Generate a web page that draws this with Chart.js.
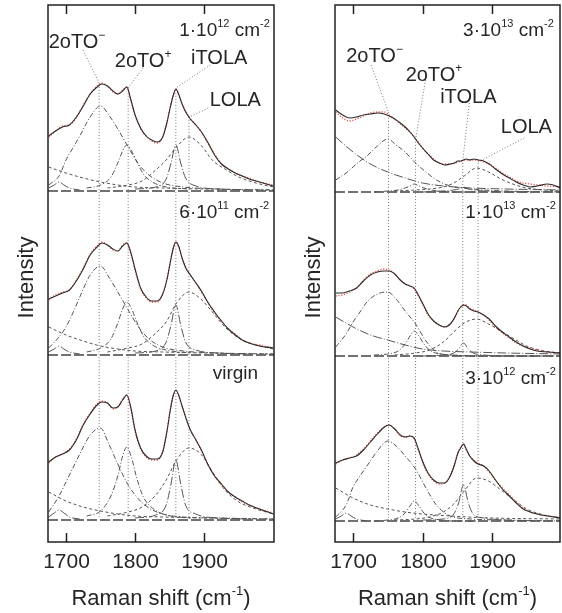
<!DOCTYPE html>
<html>
<head>
<meta charset="utf-8">
<script src="https://cdn.jsdelivr.net/npm/chart.js@4.4.0/dist/chart.umd.min.js"></script>
<style>
  html, body { margin: 0; padding: 0; background: #fff; }
  #wrap { position: relative; width: 562px; height: 613px; }
  canvas { position: absolute; top: 0; }
</style>
</head>
<body>
<div id="wrap">
  <canvas id="left" width="281" height="613" style="left:0"></canvas>
  <canvas id="right" width="281" height="613" style="left:281px"></canvas>
</div>
<script>
// Raman shift grid (cm-1) shared by the measured spectra and their fits
var ramanGrid = [1675,1685,1695,1705,1715,1725,1735,1745,1752,1760,1768,1775,1782,1788,1794,1800,1808,1816,1824,1832,1840,1846,1851,1855,1859,1863,1868,1874,1880,1888,1896,1905,1915,1925,1935,1945,1955,1965,1980,2000];

// left panel: 1e12, 6e11, virgin
var fit1e12 = [55,60,64,66,74,85,97,104,107,105,100,97,100,104,91,76,63,55,51,49,54,68,84,95,102,97,87,78,72,66,59,49,36,27,22,18,15,12,9,5];
var obs1e12 = [54,60,65,66,73,86,97,105,108,105,99,97,101,104,90,76,62,55,50,48,54,69,85,95,102,96,87,79,72,66,59,48,37,27,22,18,15,13,9,6];
var fit6e11 = [56,59,62,65,74,86,100,108,112,110,106,104,109,112,102,86,67,58,54,54,61,75,93,106,113,109,97,86,80,72,64,53,43,34,26,20,15,12,9,7];
var obs6e11 = [55,60,63,65,75,87,101,109,113,110,105,104,110,112,101,85,66,57,53,53,61,76,93,107,113,108,97,87,80,72,63,53,42,34,26,21,15,12,10,7];
var fitVirgin = [58,63,66,70,80,95,106,115,118,117,112,113,120,125,112,90,72,64,61,61,68,88,110,124,130,125,114,101,90,80,70,56,44,36,28,23,19,15,11,6];
var obsVirgin = [57,63,66,71,81,96,107,116,119,117,111,113,121,125,111,89,71,63,60,60,69,89,111,124,129,124,114,101,90,80,69,56,44,35,28,23,18,15,11,7];

// right panel: 3e13, 1e13, 3e12
var fit3e13 = [82,77,74,75,77,78,79,78,76,73,69,65,60,55,49,44,38,32,29,27,28,29,31,31,32,33,32,33,32,31,28,23,18,14,10,7,5,6,8,4];
var obs3e13 = [80,74,71,73,76,79,80,80,77,73,68,64,60,55,50,44,38,33,29,28,28,29,30,31,32,32,32,32,32,30,28,24,19,15,11,9,8,7,6,5];
var fit1e13 = [63,63,65,68,75,81,84,85,85,82,76,72,70,68,61,53,42,35,31,29,32,38,45,49,51,50,47,45,44,41,37,30,24,19,14,10,7,5,4,3];
var obs1e13 = [60,61,64,68,76,82,85,87,86,82,76,72,70,67,60,52,41,35,31,29,32,38,45,49,51,51,48,46,44,41,36,29,23,18,13,10,8,6,4,3];
var fit3e12 = [58,61,63,65,71,79,87,94,96,92,86,84,85,83,72,60,48,41,38,38,45,56,68,73,77,72,65,60,57,55,50,41,32,25,18,12,9,7,5,3];
var obs3e12 = [57,61,63,66,72,80,88,94,96,92,85,84,85,82,71,59,47,40,37,38,46,57,68,74,77,71,65,61,58,55,49,41,33,26,19,13,9,7,5,3];

// fitted components, each on its own grid
var gridMinus = [1675,1690,1700,1710,1720,1735,1750,1762,1775,1790,1805,1820,1840,1870,1920,2000];
var gridPlus  = [1730,1750,1765,1775,1782,1788,1795,1802,1812,1825,1845,1880];
var gridItola = [1800,1830,1845,1852,1859,1866,1873,1888,1920,1960];
var gridLola  = [1760,1790,1810,1830,1845,1860,1878,1895,1913,1930,1950,1975,2000];
var gridBg    = [1675,1700,1725,1750,1775,1800,1840,1900,2000];
var gridSmall = [1675,1683,1690,1697,1705,1720];
var gridDecay = [1675,1700,1725,1750,1775,1800,1830,1870,1920,2000];

var minus1e12 = [6,15,31,43,55,74,85,76,62,44,27,16,8,4,2,1];
var plus1e12  = [3,6,14,28,40,46,40,30,17,9,4,2];
var itola1e12 = [2,4,12,28,46,28,13,5,2,1];
var lola1e12  = [3,6,10,21,31,44,54,46,30,22,14,8,4];
var bg1e12    = [24,18,13,9,6,4,3,2,1];
var small1e12 = [3,6,9,6,3,1];

var minus6e11 = [7,18,28,42,58,80,89,78,63,45,28,16,8,4,2,1];
var plus6e11  = [3,7,16,32,46,53,46,34,19,10,5,2];
var itola6e11 = [2,4,13,30,50,30,13,5,2,1];
var lola6e11  = [3,7,11,22,33,52,63,56,42,28,17,10,6];
var bg6e11    = [28,20,14,9,6,4,3,2,1];
var small6e11 = [3,6,9,6,3,1];

var minusVirgin = [8,24,38,52,66,85,92,76,56,35,21,12,6,3,2,1];
var plusVirgin  = [4,9,24,44,64,73,62,43,23,12,5,2];
var itolaVirgin = [2,5,15,36,60,36,15,6,2,1];
var lolaVirgin  = [4,8,13,25,40,60,72,66,47,30,18,11,6];
var bgVirgin    = [28,19,13,9,6,4,3,2,1];
var smallVirgin = [3,7,10,7,3,1];

var decay3e13 = [55,40,28,20,14,9,6,4,3,2];
var minus3e13 = [12,19,25,31,36,46,53,47,40,29,20,12,6,3,1,0];
var plus3e13  = [0,1,2,4,6,8,6,4,2,1,0,0];
var itola3e13 = [0,1,2,3,5,3,2,1,0,0];
var lola3e13  = [1,2,3,5,9,16,24,20,13,8,4,2,1];

var decay1e13 = [39,29,21,16,11,7,5,4,3,2];
var minus1e13 = [9,22,34,44,54,62,64,57,45,32,15,4,1,0,0,0];
var plus1e13  = [1,2,5,12,20,25,20,12,5,2,1,0];
var itola1e13 = [0,1,3,7,13,7,3,1,0,0];
var lola1e13  = [1,3,6,14,24,33,37,32,25,18,10,5,3];

var bg3e12    = [33,23,16,12,9,7,5,3,2];
var minus3e12 = [4,16,34,45,55,70,80,75,65,52,33,16,5,2,1,0];
var plus3e12  = [0,1,3,8,15,20,15,8,3,1,0,0];
var itola3e12 = [1,2,7,18,36,18,7,3,1,0];
var lola3e12  = [1,2,4,9,17,30,43,40,31,22,12,6,3];
var small3e12 = [2,5,8,5,2,0];

var baseX = [1674, 2001];
var baseY = [0, 0];

var tickValues = [1700, 1800, 1900];

// mode positions (cm-1) and where the dotted guide lines end
var modesLeft = [1748, 1790, 1859, 1878];
var modeTopsLeft = [437, 432, 432, 403];
var leaderStartLeft = [[1724.6, 470], [1811.6, 452], [1908.7, 455], [1905.8, 412]];
var modeLabelLeft = [[1716, 472], [1811.6, 453], [1921.7, 456], [1945, 414]];

var modesRight = [1751, 1790, 1858, 1880];
var modeTopsRight = [409, 381, 361, 359];
var leaderStartRight = [[1725.9, 456], [1805, 444], [1867.4, 418], [1946.5, 383]];
var modeLabelRight = [[1731, 459], [1816.5, 440], [1866, 418], [1949.6, 388]];

var modeNames = [[['2oTO', 0], ['\u2212', 1]], [['2oTO', 0], ['+', 1]], [['iTOLA', 0]], [['LOLA', 0]]];

var FONT = '"Liberation Sans", Arial, Helvetica, sans-serif';
var dashes = { dd: [5, 2, 1, 2], ld: [9, 2, 1, 2], sd: [3, 2.5] };

function pts(xs, ys, off) {
    return xs.map(function (x, i) { return { x: x, y: ys[i] + off }; });
}

function line(points, color, dash, width) {
    return {
        data: points,
        borderColor: color,
        borderDash: dash,
        borderWidth: width,
        pointRadius: 0,
        fill: false,
        cubicInterpolationMode: 'monotone'
    };
}

function drawRich(ctx, parts, x, y, align, size) {
    var small = Math.round(size * 0.6);
    var w = 0;
    parts.forEach(function (p) {
        ctx.font = (p[1] ? small : size) + 'px ' + FONT;
        w += ctx.measureText(p[0]).width;
    });
    var cx = align === 'right' ? x - w : (align === 'center' ? x - w / 2 : x);
    ctx.textAlign = 'left';
    ctx.textBaseline = 'alphabetic';
    parts.forEach(function (p) {
        ctx.font = (p[1] ? small : size) + 'px ' + FONT;
        ctx.fillText(p[0], cx, p[1] ? y - size * 0.45 : y);
        cx += ctx.measureText(p[0]).width;
    });
}

var panels = [
    {
        id: 'left', xMin: 1674, xMax: 2001, yMin: -22, yMax: 515,
        pad: { left: 48, right: 7, top: 5, bottom: 71 },
        modes: modesLeft, tops: modeTopsLeft, leaders: leaderStartLeft, labels: modeLabelLeft,
        spectra: [
            { off: 329, fit: fit1e12, obs: obs1e12,
              parts: [[gridMinus, minus1e12, 'dd'], [gridPlus, plus1e12, 'dd'], [gridItola, itola1e12, 'ld'], [gridLola, lola1e12, 'sd'], [gridBg, bg1e12, 'sd'], [gridSmall, small1e12, 'ld']],
              tag: [['1\u00b710', 0], ['12', 1], [' cm', 0], ['-2', 1]], tagAt: [1995, 484] },
            { off: 165, fit: fit6e11, obs: obs6e11,
              parts: [[gridMinus, minus6e11, 'dd'], [gridPlus, plus6e11, 'dd'], [gridItola, itola6e11, 'ld'], [gridLola, lola6e11, 'sd'], [gridBg, bg6e11, 'sd'], [gridSmall, small6e11, 'ld']],
              tag: [['6\u00b710', 0], ['11', 1], [' cm', 0], ['-2', 1]], tagAt: [1994, 302] },
            { off: 0, fit: fitVirgin, obs: obsVirgin,
              parts: [[gridMinus, minusVirgin, 'dd'], [gridPlus, plusVirgin, 'dd'], [gridItola, itolaVirgin, 'ld'], [gridLola, lolaVirgin, 'sd'], [gridBg, bgVirgin, 'sd'], [gridSmall, smallVirgin, 'ld']],
              tag: [['virgin', 0]], tagAt: [1978, 141] }
        ]
    },
    {
        id: 'right', xMin: 1674, xMax: 1998, yMin: -21, yMax: 516,
        pad: { left: 54, right: 2, top: 5, bottom: 71 },
        modes: modesRight, tops: modeTopsRight, leaders: leaderStartRight, labels: modeLabelRight,
        spectra: [
            { off: 329, fit: fit3e13, obs: obs3e13,
              parts: [[gridDecay, decay3e13, 'ld'], [gridMinus, minus3e13, 'dd'], [gridPlus, plus3e13, 'dd'], [gridItola, itola3e13, 'ld'], [gridLola, lola3e13, 'sd']],
              tag: [['3\u00b710', 0], ['13', 1], [' cm', 0], ['-2', 1]], tagAt: [1989, 485] },
            { off: 165, fit: fit1e13, obs: obs1e13,
              parts: [[gridDecay, decay1e13, 'ld'], [gridMinus, minus1e13, 'dd'], [gridPlus, plus1e13, 'dd'], [gridItola, itola1e13, 'ld'], [gridLola, lola1e13, 'sd']],
              tag: [['1\u00b710', 0], ['13', 1], [' cm', 0], ['-2', 1]], tagAt: [1992, 303] },
            { off: 0, fit: fit3e12, obs: obs3e12,
              parts: [[gridMinus, minus3e12, 'dd'], [gridPlus, plus3e12, 'dd'], [gridItola, itola3e12, 'ld'], [gridLola, lola3e12, 'sd'], [gridBg, bg3e12, 'sd'], [gridSmall, small3e12, 'ld']],
              tag: [['3\u00b710', 0], ['12', 1], [' cm', 0], ['-2', 1]], tagAt: [1992, 137] }
        ]
    }
];

var decorPlugin = {
    id: 'decor',
    afterDatasetsDraw: function (chart) {
        var p = chart.options.plugins.decor.panel;
        var ctx = chart.ctx, a = chart.chartArea;
        var xs = chart.scales.x, ys = chart.scales.y;
        ctx.save();
        ctx.fillStyle = '#262626';
        ctx.strokeStyle = '#222';
        ctx.lineWidth = 1.5;
        ctx.setLineDash([]);
        ctx.strokeRect(a.left, a.top, a.right - a.left, a.bottom - a.top);

        tickValues.forEach(function (v) {
            var px = Math.round(xs.getPixelForValue(v)) + 0.5;
            ctx.beginPath();
            ctx.moveTo(px, a.top); ctx.lineTo(px, a.top + 9);
            ctx.moveTo(px, a.bottom); ctx.lineTo(px, a.bottom - 9);
            ctx.stroke();
            drawRich(ctx, [[String(v), 0]], px, a.bottom + 26, 'center', 21);
        });

        p.labels.forEach(function (l, i) {
            drawRich(ctx, modeNames[i], xs.getPixelForValue(l[0]), ys.getPixelForValue(l[1]), 'center', 20);
        });
        p.spectra.forEach(function (s) {
            drawRich(ctx, s.tag, xs.getPixelForValue(s.tagAt[0]), ys.getPixelForValue(s.tagAt[1]), 'right', 19);
        });

        drawRich(ctx, [['Raman shift (cm', 0], ['-1', 1], [')', 0]], (a.left + a.right) / 2, a.bottom + 63, 'center', 22);

        ctx.translate(a.left - 15, (a.top + a.bottom) / 2 + 4);
        ctx.rotate(-Math.PI / 2);
        drawRich(ctx, [['Intensity', 0]], 0, 0, 'center', 22);
        ctx.restore();
    }
};

panels.forEach(function (p) {
    var ds = [];
    p.spectra.forEach(function (s) {
        ds.push(line(pts(ramanGrid, s.fit, s.off), '#2b2b2b', [], 1.1));
        ds.push(line(pts(ramanGrid, s.obs, s.off), '#e8504a', [1.2, 1.6], 1.3));
    });
    p.modes.forEach(function (m, i) {
        ds.push(line([{ x: m, y: 3 }, { x: m, y: p.tops[i] }], '#777', [1, 2], 1));
        ds.push(line([{ x: p.leaders[i][0], y: p.leaders[i][1] }, { x: m, y: p.tops[i] }], '#777', [1, 2], 1));
    });
    p.spectra.forEach(function (s) {
        s.parts.forEach(function (c) {
            ds.push(line(pts(c[0], c[1], s.off), '#555', dashes[c[2]], 1));
        });
        ds.push(line(pts(baseX, baseY, s.off), '#444', [10, 3], 1.3));
    });

    new Chart(document.getElementById(p.id), {
        type: 'line',
        data: { datasets: ds },
        options: {
            responsive: false,
            animation: false,
            layout: { padding: p.pad },
            scales: {
                x: { type: 'linear', min: p.xMin, max: p.xMax, display: false },
                y: { type: 'linear', min: p.yMin, max: p.yMax, display: false }
            },
            plugins: {
                legend: { display: false },
                tooltip: { enabled: false },
                decor: { panel: p }
            }
        },
        plugins: [decorPlugin]
    });
});
</script>
</body>
</html>
